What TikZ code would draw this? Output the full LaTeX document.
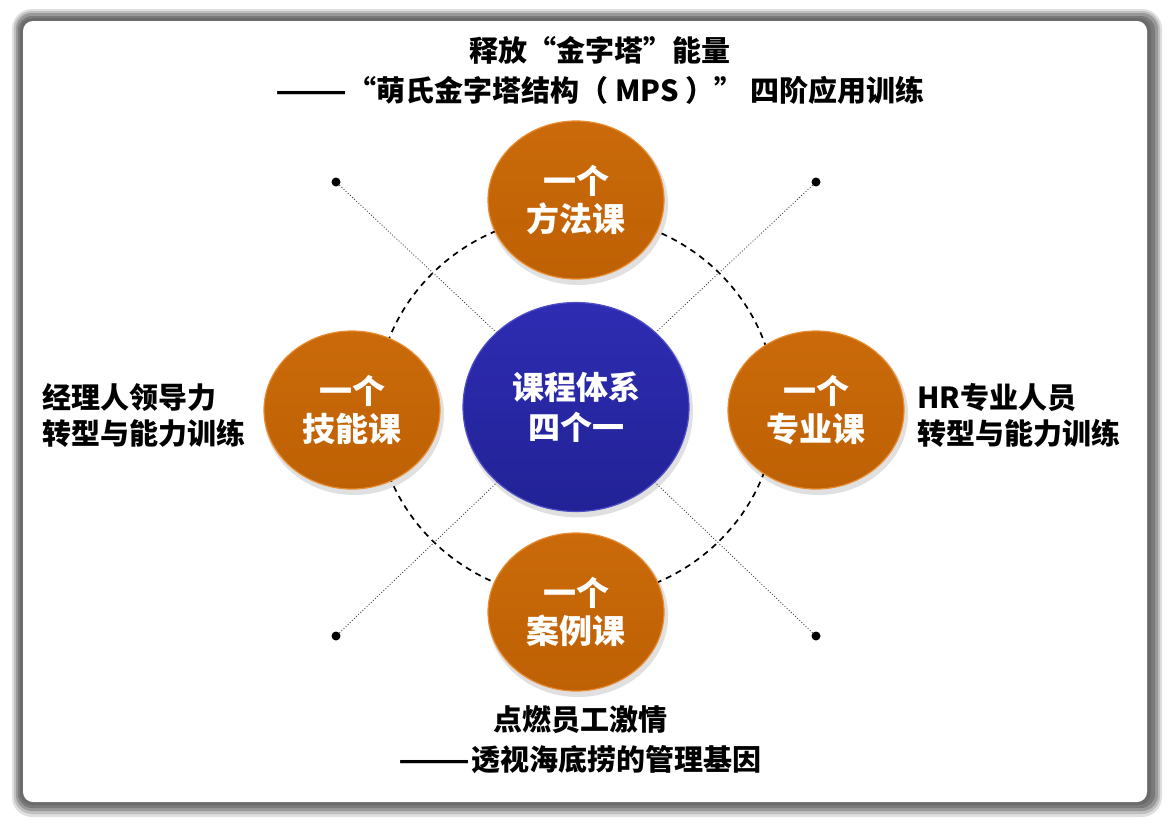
\documentclass[tikz,border=0pt]{standalone}
\usepackage{fontspec}
\setmainfont{Noto Sans CJK SC}
\usetikzlibrary{shapes.geometric}
\definecolor{orgA}{RGB}{202,106,10}
\definecolor{orgB}{RGB}{190,97,4}
\definecolor{orgRim}{RGB}{232,140,50}
\definecolor{bluA}{RGB}{46,44,178}
\definecolor{bluB}{RGB}{34,34,150}
\definecolor{bluRim}{RGB}{78,78,200}
\tikzset{
  orb/.style={ellipse, inner sep=0pt, minimum width=176pt, minimum height=158pt,
    top color=orgA, bottom color=orgB, draw=orgRim, line width=1.2pt,
    text=white, align=center, font=\bfseries\fontsize{33}{38}\selectfont},
  hub/.style={ellipse, inner sep=0pt, minimum width=226pt, minimum height=209pt,
    top color=bluA, bottom color=bluB, draw=bluRim, line width=1.2pt,
    text=white, align=center, font=\bfseries\fontsize{32}{40}\selectfont},
  orbshadow/.style={ellipse, inner sep=0pt, fill=black, opacity=0.12},
  lbl/.style={text=black, font=\bfseries\fontsize{29}{36}\selectfont, inner sep=0pt},
  ttl/.style={text=black, font=\bfseries\fontsize{29}{40}\selectfont, inner sep=0pt, align=center},
  dotend/.style={circle, fill=black, inner sep=0pt, minimum size=9pt},
  spoke/.style={draw=black!75, dotted, line width=0.9pt},
  ring/.style={draw=black, line width=1.7pt, dash pattern=on 6pt off 5pt},
}
\newcommand{\longdash}{\scalebox{1.45}[1]{——}}
\begin{document}
\begin{tikzpicture}[x=1pt,y=-1pt]
\useasboundingbox (0,0) rectangle (1170,827);
\fill[white] (0,0) rectangle (1170,827);
% frame with soft shadow
\fill[black!12, rounded corners=20pt] (12,9) rectangle (1162,817);
\fill[black!25, rounded corners=18pt] (14,11) rectangle (1160,814);
\fill[black!40, rounded corners=16pt] (16,13) rectangle (1158,811);
\fill[black!52, rounded corners=14pt] (18,16) rectangle (1155,808);
\fill[black!58, rounded corners=12pt] (20,18) rectangle (1151,805);
\fill[white, rounded corners=10pt] (23,21) rectangle (1147,802);
% dashed ring
\draw[ring] (576,407) ellipse [x radius=200, y radius=192];
% dots
\node[dotend] (d1) at (336,182) {};
\node[dotend] (d2) at (816,182) {};
\node[dotend] (d3) at (336,636) {};
\node[dotend] (d4) at (816,636) {};
% shadows
\node[orbshadow, minimum width=180pt, minimum height=162pt] at (578,204) {};
\node[orbshadow, minimum width=180pt, minimum height=162pt] at (354,414) {};
\node[orbshadow, minimum width=180pt, minimum height=162pt] at (818,414) {};
\node[orbshadow, minimum width=180pt, minimum height=162pt] at (578,616) {};
\node[orbshadow, minimum width=230pt, minimum height=213pt] at (578,411) {};
% center
\node[hub] (c) at (576,407) {课程体系\\四个一};
% spokes
\draw[spoke] (d1) -- (c);
\draw[spoke] (d2) -- (c);
\draw[spoke] (d3) -- (c);
\draw[spoke] (d4) -- (c);
% orbs
\node[orb] (top) at (576,200) {一个\\方法课};
\node[orb] (left) at (352,410) {一个\\技能课};
\node[orb] (right) at (816,410) {一个\\专业课};
\node[orb] (bot) at (576,612) {一个\\案例课};
% labels
\node[ttl] (title) at (600,70) {释放“金字塔”能量\\\longdash“萌氏金字塔结构（ MPS ）” 四阶应用训练};
\node[lbl, anchor=west, align=left] (ltxt) at (42,415) {经理人领导力\\转型与能力训练};
\node[lbl, anchor=west, align=left] (rtxt) at (917,415) {HR专业人员\\转型与能力训练};
\node[ttl] (btxt) at (580,740) {点燃员工激情\\\longdash{}透视海底捞的管理基因};
\end{tikzpicture}
\end{document}
